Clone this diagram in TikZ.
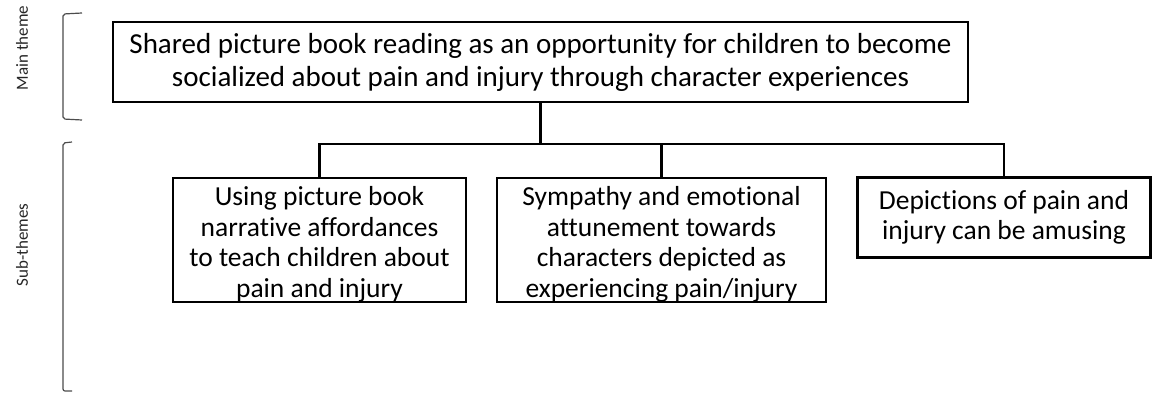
\documentclass[tikz,border=0pt]{standalone}
\usepackage{fontspec}
\setmainfont{Carlito}[Ligatures={NoCommon}]
\newcommand{\topgap}{\rule{0pt}{28pt}}
\begin{document}
\begin{tikzpicture}[x=1pt, y=-1pt,
    theme/.style={draw, line width=2.6pt, align=center, inner sep=0pt,
      font=\fontsize{27.5}{30.5}\selectfont},
    link/.style={line width=2.2pt},
    brace/.style={draw=black!70, line width=1.2pt, rounded corners=2pt},
    side/.style={rotate=90, text=black!85, font=\fontsize{17}{20}\selectfont}]
  \useasboundingbox (0,0) rectangle (1154,397);
  % main theme
  \node[theme, minimum width=855pt, minimum height=80pt,
    font=\fontsize{29}{33}\selectfont] (main) at (540.5,62)
    {Shared picture book reading as an opportunity for children to become\\
     socialized about pain and injury through character experiences};
  % sub-themes
  \node[theme, minimum width=293pt, minimum height=123pt] (sub1) at (319.5,240)
    {\topgap Using picture book\\narrative affordances\\to teach children about\\pain and injury};
  \node[theme, minimum width=329pt, minimum height=123pt] (sub2) at (661.5,240)
    {\topgap Sympathy and emotional\\attunement towards\\characters depicted as\\experiencing pain/injury};
  \node[theme, minimum width=293pt, minimum height=80pt] (sub3) at (1004,217.5)
    {Depictions of pain and\\injury can be amusing};
  % connectors
  \coordinate (bar) at (540.5,144);
  \draw[link] (main.south) -- (bar);
  \draw[link] (sub1.north) -- (sub1.north |- bar) -- (sub3.north |- bar) -- (sub3.north);
  \draw[link] (sub2.north) -- (sub2.north |- bar);
  % brackets
  \draw[brace] (82,13) -- (63,14) -- (63,119) -- (82,120);
  \draw[brace] (72,142) -- (63,143) -- (63,391) -- (72,391);
  \node[side] (lmain) at (22,48) {Main theme};
  \node[side] (lsub) at (22,245) {Sub-themes};
\end{tikzpicture}
\end{document}
